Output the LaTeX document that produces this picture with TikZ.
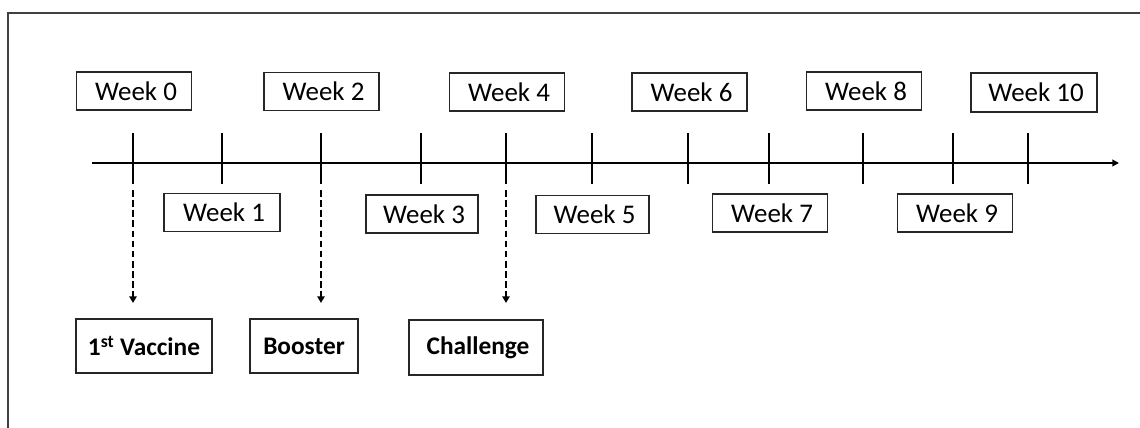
\documentclass[tikz,border=0pt]{standalone}
\usepackage{fontspec}
\setmainfont{Carlito}
\usetikzlibrary{arrows.meta}
\begin{document}
\begin{tikzpicture}[x=0.75pt,y=-0.75pt,
  wk/.style={draw=black!85,line width=1.1pt,minimum width=86pt,minimum height=28.5pt,inner sep=0pt,font=\fontsize{20.2}{23}\selectfont},
  ev/.style={draw=black!85,line width=1.3pt,minimum height=40.5pt,inner sep=0pt,font=\fontsize{19}{22}\selectfont\bfseries},
  tick/.style={line width=1.9pt},
  axis/.style={line width=1.9pt,-{Triangle[length=5pt,width=5pt]}},
  dasharrow/.style={line width=2pt,dash pattern=on 5pt off 2.6pt,-{Triangle[length=5pt,width=5.5pt]}}]
\useasboundingbox (0,0) rectangle (1140,428);
% outer frame
\draw[line width=1.5pt,black!75] (8,432) -- (8,13) -- (1145,13);
% axis
\coordinate (ax0) at (92,163);
\coordinate (ax1) at (1119,163);
\draw[axis] (ax0) -- (ax1);
% ticks
\foreach \n/\x in {0/133,1/222,2/321,3/421,4/506,5/592,6/688,7/769,8/863,9/953,10/1028}{
  \coordinate (t\n) at (\x,163);
  \draw[tick] (\x,133) -- (\x,184);
}
% top week boxes
\node[wk] (w0) at (134,91) {\hspace*{3pt}Week 0};
\node[wk] (w2) at (321.5,91.5) {\hspace*{3pt}Week 2};
\node[wk] (w4) at (507,92) {\hspace*{3pt}Week 4};
\node[wk] (w6) at (689.5,92) {\hspace*{3pt}Week 6};
\node[wk] (w8) at (864,91) {\hspace*{3pt}Week 8};
\node[wk,minimum width=94.5pt,minimum height=29.5pt] (w10) at (1034,92.5) {\hspace*{3pt}Week 10};
% bottom week boxes
\node[wk,minimum width=87pt] (w1) at (222,212.5) {\hspace*{3pt}Week 1};
\node[wk,minimum width=84pt] (w3) at (422,214) {\hspace*{3pt}Week 3};
\node[wk,minimum width=85pt] (w5) at (592.5,214.5) {\hspace*{3pt}Week 5};
\node[wk] (w7) at (770,213) {\hspace*{3pt}Week 7};
\node[wk] (w9) at (955,213) {\hspace*{3pt}Week 9};
% event boxes
\node[ev,minimum width=102pt] (vac) at (144,346) {1\textsuperscript{st} Vaccine};
\node[ev,minimum width=81pt] (boo) at (304,346) {Booster};
\node[ev,minimum width=100.5pt,minimum height=41pt] (cha) at (476,347.5) {\hspace*{3pt}Challenge};
% dashed arrows
\coordinate (d0s) at (133,190); \coordinate (d0e) at (133,303);
\coordinate (d2s) at (321,190); \coordinate (d2e) at (321,303);
\coordinate (d4s) at (506,190); \coordinate (d4e) at (506,303);
\draw[dasharrow] (d0s) -- (d0e);
\draw[dasharrow] (d2s) -- (d2e);
\draw[dasharrow] (d4s) -- (d4e);
\end{tikzpicture}
\end{document}
